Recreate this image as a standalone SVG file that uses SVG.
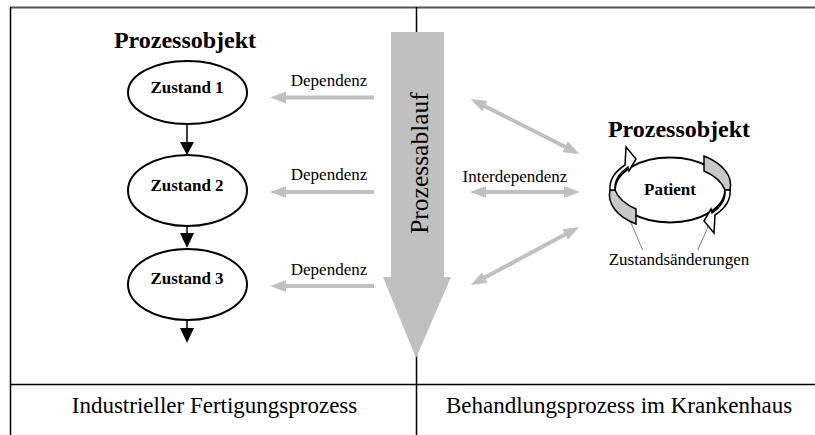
<svg xmlns="http://www.w3.org/2000/svg" width="815" height="435" viewBox="0 0 815 435">
<style>
.t{font-family:"Liberation Serif","Times New Roman",serif;fill:#000}
.b{font-weight:bold}
.ga{stroke:#c0c0c0;stroke-width:4;fill:none}
.el{fill:#fff;stroke:#000;stroke-width:2}
</style>
<defs>
<marker id="gh" viewBox="0 0 16 12" refX="1" refY="6" markerWidth="16" markerHeight="12" markerUnits="userSpaceOnUse" orient="auto-start-reverse">
<path d="M0,0 L16,6 L0,12 z" fill="#c0c0c0"/>
</marker>
</defs>
<rect width="815" height="435" fill="#fff"/>
<g id="frame">
<line x1="10" y1="7.5" x2="815" y2="7.5" stroke="#555" stroke-width="2"/>
<line x1="10.5" y1="7" x2="10.5" y2="435" stroke="#000" stroke-width="1.5"/>
<line x1="10" y1="384.5" x2="815" y2="384.5" stroke="#000" stroke-width="1.5"/>
<line x1="416.5" y1="7" x2="416.5" y2="435" stroke="#000" stroke-width="1.5"/>
</g>
<g id="prozessablauf">
<polygon points="391,32 444,32 444,277 451,277 416,358 383,277 391,277" fill="#c0c0c0"/>
<text class="t" font-size="25.5" text-anchor="middle" transform="translate(428,163) rotate(-90)">Prozessablauf</text>
</g>
<g id="left-title"><text class="t b" x="185" y="48" font-size="24" text-anchor="middle">Prozessobjekt</text></g>
<g id="zustand1"><ellipse class="el" cx="187.5" cy="92.5" rx="59.5" ry="31.5"/><text class="t b" x="187" y="93" font-size="17" text-anchor="middle">Zustand 1</text></g>
<g id="zustand2"><ellipse class="el" cx="187.5" cy="190.5" rx="59.5" ry="35.5"/><text class="t b" x="187" y="191" font-size="17" text-anchor="middle">Zustand 2</text></g>
<g id="zustand3"><ellipse class="el" cx="187.5" cy="284.5" rx="59.5" ry="35.5"/><text class="t b" x="187" y="284" font-size="17" text-anchor="middle">Zustand 3</text></g>
<g id="connectors">
<line x1="187" y1="124" x2="187" y2="143" stroke="#000" stroke-width="1.5"/>
<polygon points="180,142 194,142 187,155" fill="#000"/>
<line x1="187" y1="226" x2="187" y2="234" stroke="#000" stroke-width="1.5"/>
<polygon points="180,233 194,233 187,248" fill="#000"/>
<line x1="187" y1="320" x2="187" y2="329" stroke="#000" stroke-width="1.5"/>
<polygon points="180,328 194,328 187,343" fill="#000"/>
<line class="ga" x1="374" y1="97.5" x2="285" y2="97.5" marker-end="url(#gh)"/>
<line class="ga" x1="374" y1="192" x2="285" y2="192" marker-end="url(#gh)"/>
<line class="ga" x1="374" y1="286" x2="285" y2="286" marker-end="url(#gh)"/>
<line class="ga" x1="484" y1="105.7" x2="566" y2="147.3" marker-start="url(#gh)" marker-end="url(#gh)"/>
<line class="ga" x1="485" y1="192" x2="565" y2="192" marker-start="url(#gh)" marker-end="url(#gh)"/>
<line class="ga" x1="484" y1="278" x2="566" y2="234" marker-start="url(#gh)" marker-end="url(#gh)"/>
<line x1="642.7" y1="250" x2="626.7" y2="213" stroke="#808080" stroke-width="1"/>
<line x1="697.7" y1="250" x2="713.3" y2="215" stroke="#808080" stroke-width="1"/>
</g>
<g id="labels">
<text class="t" x="329" y="86" font-size="17" text-anchor="middle">Dependenz</text>
<text class="t" x="329" y="180" font-size="17" text-anchor="middle">Dependenz</text>
<text class="t" x="329" y="275" font-size="17" text-anchor="middle">Dependenz</text>
<text class="t" x="515" y="182" font-size="17" text-anchor="middle">Interdependenz</text>
</g>
<g id="right-title"><text class="t b" x="679" y="137" font-size="24" text-anchor="middle">Prozessobjekt</text></g>
<g id="patient">
<ellipse cx="670" cy="190" rx="55" ry="32.5" fill="#fff" stroke="#000" stroke-width="2"/>
<path d="M610,190 A60,35 0 0 0 636,224 L636,209 A55,32.5 0 0 1 615,190 z" fill="#c8c8c8" stroke="#000" stroke-width="1.5"/>
<path d="M730,190 A60,35 0 0 0 704,156 L704,171 A55,32.5 0 0 1 725,190 z" fill="#c8c8c8" stroke="#000" stroke-width="1.5"/>
<path d="M610,190 A60,35 0 0 1 625,165 L626,147 L636,159 L629,171 L628,167 A55,32.5 0 0 0 615,190 z" fill="#fff" stroke="#000" stroke-width="1.5"/>
<path d="M730,190 A60,35 0 0 1 715,215 L714,233 L704,221 L711,209 L712,213 A55,32.5 0 0 0 725,190 z" fill="#fff" stroke="#000" stroke-width="1.5"/>
<text class="t b" x="670" y="195" font-size="17" text-anchor="middle">Patient</text>
<text class="t" x="679" y="265" font-size="17" text-anchor="middle">Zustandsänderungen</text>
</g>
<g id="footer">
<text class="t" x="214.5" y="413" font-size="23" text-anchor="middle">Industrieller Fertigungsprozess</text>
<text class="t" x="619" y="413" font-size="23" text-anchor="middle">Behandlungsprozess im Krankenhaus</text>
</g>
</svg>
